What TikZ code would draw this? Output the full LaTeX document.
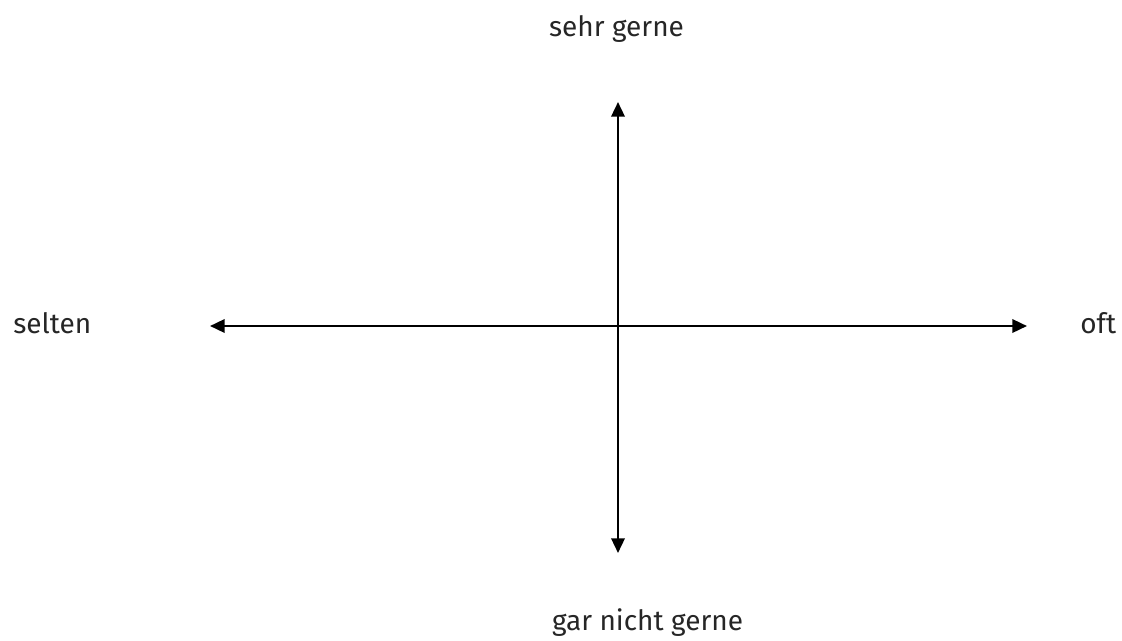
\documentclass[tikz,border=0pt]{standalone}
\usepackage{fontspec}
\setmainfont{Fira Sans}
\usetikzlibrary{arrows.meta}
\begin{document}
\begin{tikzpicture}[x=0.75pt,y=-0.75pt,
  axis/.style={line width=1.8pt,-{Triangle[length=11pt,width=10pt]}},
  lbl/.style={font=\fontsize{21}{23}\selectfont,text=black!85,inner sep=0pt}]
\useasboundingbox (0,0) rectangle (1122,640);
\coordinate (c) at (618,326);
\coordinate (l) at (210,326);
\coordinate (r) at (1027,326);
\coordinate (t) at (618,102);
\coordinate (b) at (618,553);
\draw[axis] (c) -- (l);
\draw[axis] (c) -- (r);
\draw[axis] (c) -- (t);
\draw[axis] (c) -- (b);
\node[lbl,anchor=base] (sg) at (616.5,36) {sehr gerne};
\node[lbl,anchor=base] (gng) at (647.5,630) {gar nicht gerne};
\node[lbl,anchor=base west] (se) at (13,333) {selten};
\node[lbl,anchor=base west] (of) at (1080,333) {oft};
\end{tikzpicture}
\end{document}
